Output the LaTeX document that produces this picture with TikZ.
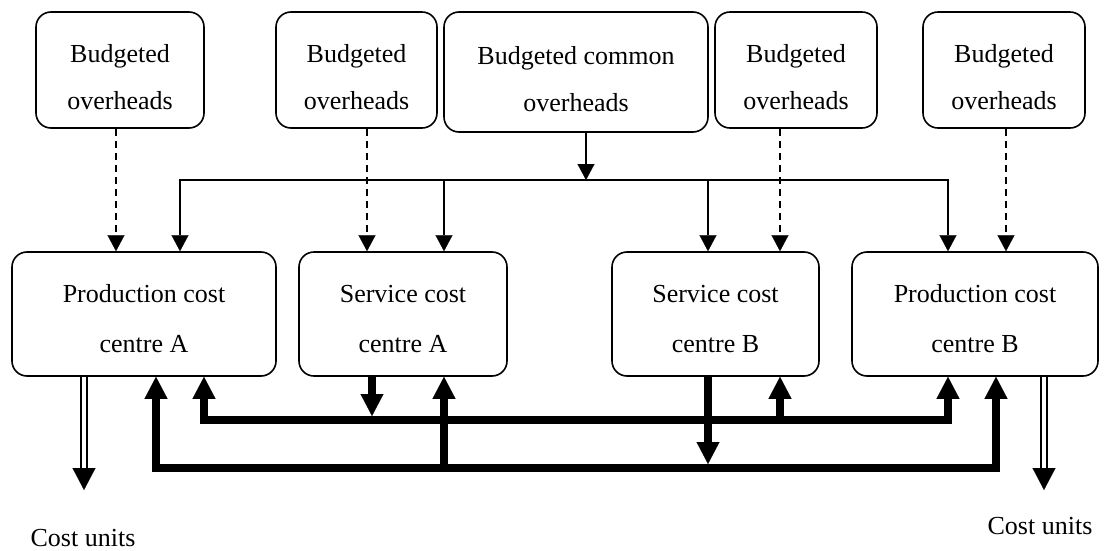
\documentclass[tikz,border=0pt]{standalone}
\usepackage{fontspec}
\setmainfont{Liberation Serif}
\usetikzlibrary{arrows.meta}
\newcommand{\topstrut}{\rule{0pt}{33pt}}
\newcommand{\midstrut}{\rule{0pt}{28pt}}
\begin{document}
\begin{tikzpicture}[x=1pt,y=-1pt,
 box/.style={draw, line width=1.6pt, rounded corners=15pt, align=center, inner sep=0pt, font=\fontsize{26}{47}\selectfont},
 smalltip/.tip={Triangle[length=16pt,width=17pt,line width=0.1pt]},
 bigtip/.tip={Triangle[length=22pt,width=23pt,line width=0.1pt]},
 dasharr/.style={line width=1.5pt, dash pattern=on 7pt off 5pt, -smalltip},
 thinarr/.style={line width=1.8pt, -smalltip},
 thickarr/.style={line width=8pt, -bigtip},
 thickboth/.style={line width=8pt, bigtip-bigtip},
 dblline/.style={double, double distance=3.5pt, line width=2.2pt},
 headonly/.style={line width=0.5pt, -bigtip},
 lbl/.style={font=\fontsize{26}{30}\selectfont, inner sep=0pt}]
\useasboundingbox (0,0) rectangle (1109,551);

% top boxes
\node[box, minimum width=168pt, minimum height=116pt] (b1) at (120,70) {\topstrut Budgeted\\overheads};
\node[box, minimum width=161pt, minimum height=116pt] (b2) at (356.5,70) {\topstrut Budgeted\\overheads};
\node[box, minimum width=264pt, minimum height=120pt] (bc) at (576,72) {\topstrut Budgeted common\\overheads};
\node[box, minimum width=162pt, minimum height=116pt] (b4) at (796,70) {\topstrut Budgeted\\overheads};
\node[box, minimum width=162pt, minimum height=116pt] (b5) at (1004,70) {\topstrut Budgeted\\overheads};

% centres
\node[box, minimum width=264pt, minimum height=124pt] (pa) at (144,314) {\midstrut Production cost\\[3pt]centre A};
\node[box, minimum width=208pt, minimum height=124pt] (sa) at (403,314) {\midstrut Service cost\\[3pt]centre A};
\node[box, minimum width=207pt, minimum height=124pt] (sb) at (715.5,314) {\midstrut Service cost\\[3pt]centre B};
\node[box, minimum width=246pt, minimum height=124pt] (pb) at (975,314) {\midstrut Production cost\\[3pt]centre B};

% dashed arrows
\draw[dasharr] ([xshift=-4pt]b1.south) -- ([xshift=-28pt]pa.north);
\draw[dasharr] ([xshift=10.5pt]b2.south) -- ([xshift=-36pt]sa.north);
\draw[dasharr] ([xshift=-16pt]b4.south) -- ([xshift=64.5pt]sb.north);
\draw[dasharr] ([xshift=2pt]b5.south) -- ([xshift=31pt]pb.north);

% common overheads bus
\coordinate (cbus) at (586,180);
\draw[thinarr] ([xshift=10pt]bc.south) -- (cbus);
\draw[thinarr] (cbus) -| ([xshift=36pt]pa.north);
\draw[thinarr] (cbus) -| ([xshift=41pt]sa.north);
\draw[thinarr] (cbus) -| ([xshift=-7.5pt]sb.north);
\draw[thinarr] (cbus) -| ([xshift=-27pt]pb.north);

% inner loop
\coordinate (inL) at (204,420);
\coordinate (inR) at (948,420);
\coordinate (inSA) at (372,420);
\coordinate (inSB) at (780,420);
\draw[thickboth] (pa.south -| inL) -- (inL) -- (inR) -- (pb.south -| inR);
\draw[thickarr] (sa.south -| inSA) -- ([yshift=4pt]inSA);
\draw[thickarr] (inSB) -- (sb.south -| inSB);

% outer loop
\coordinate (outL) at (156,468);
\coordinate (outR) at (996,468);
\coordinate (outSA) at (444,468);
\coordinate (outSB) at (708,468);
\draw[thickboth] (pa.south -| outL) -- (outL) -- (outR) -- (pb.south -| outR);
\draw[thickarr] (outSA) -- (sa.south -| outSA);
\draw[thickarr] (sb.south -| outSB) -- ([yshift=4pt]outSB);

% cost units
\coordinate (cuA) at (84,490);
\coordinate (cuAm) at (84,469);
\coordinate (cuB) at (1044,490);
\coordinate (cuBm) at (1044,469);
\draw[dblline] (pa.south -| cuA) -- (cuAm);
\draw[headonly] ([yshift=1pt]cuAm) -- (cuA);
\draw[dblline] (pb.south -| cuB) -- (cuBm);
\draw[headonly] ([yshift=1pt]cuBm) -- (cuB);
\node[lbl] (cu1) at (83,538) {Cost units};
\node[lbl] (cu2) at (1040,526) {Cost units};
\end{tikzpicture}
\end{document}
